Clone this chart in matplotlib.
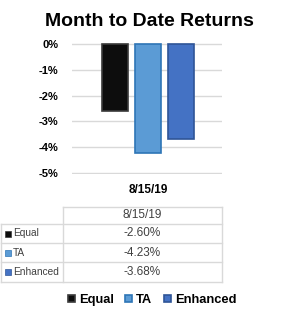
import matplotlib.pyplot as plt
from matplotlib.patches import Rectangle

plt.rcParams['font.family'] = ['Liberation Sans', 'DejaVu Sans']

# data
date_label = '8/15/19'
series = ['Equal', 'TA', 'Enhanced']
returns = [-2.60, -4.23, -3.68]
colors = ['#0d0d0d', '#5b9bd5', '#4472c4']
edges = ['#3a3a3a', '#2e75b6', '#2f5597']
yticks = [0, -1, -2, -3, -4, -5]

W, H = 298, 320
fig = plt.figure(figsize=(W / 100, H / 100), dpi=100)

def fx(px):
    return px / W

def fy(py):
    return 1 - py / H

# chart axes
ax = fig.add_axes([fx(72), fy(174), fx(222) - fx(72), fy(43) - fy(174)])
xs = [-1.27, 0, 1.27]
bars = []
for x, v, c, e, s in zip(xs, returns, colors, edges, series):
    b = ax.bar(x, v, width=1.0, color=c, edgecolor=e, linewidth=1.2, label=s, zorder=3)
    bars.append(b)
ax.set_xlim(-2.92, 2.85)
ax.set_yticks(yticks)
ax.set_yticklabels([f'{t}%' for t in yticks], fontsize=8, fontweight='bold')
ax.set_xticks([0])
ax.set_xticklabels([date_label], fontsize=8.5, fontweight='bold')
ax.tick_params(length=0, pad=10)
ax.tick_params(axis='x', pad=7)
ax.grid(axis='y', color='#d9d9d9', linewidth=1, zorder=0)
for sp in ax.spines.values():
    sp.set_visible(False)
ax.set_ylim(-5.02, 0.02)

fig.text(0.5, fy(22), 'Month to Date Returns', ha='center', va='center',
         fontsize=14, fontweight='bold')

# data table
tab = fig.add_axes([0, 0, 1, 1])
tab.set_xlim(0, W)
tab.set_ylim(H, 0)
tab.axis('off')
tab.patch.set_alpha(0)
gc = '#d9d9d9'
y_rows = [207, 224, 243, 262, 282]
x0, xm, x1 = 1, 63, 222
tab.plot([xm, x1], [y_rows[0], y_rows[0]], color=gc, lw=1)
for yy in y_rows[1:]:
    tab.plot([x0, x1], [yy, yy], color=gc, lw=1)
tab.plot([xm, xm], [y_rows[0], y_rows[-1]], color=gc, lw=1)
tab.plot([x1, x1], [y_rows[0], y_rows[-1]], color=gc, lw=1)
tab.plot([x0, x0], [y_rows[1], y_rows[-1]], color=gc, lw=1)
tab.text((xm + x1) / 2, (y_rows[0] + y_rows[1]) / 2, date_label, ha='center',
         va='center', fontsize=8.5, color='#404040')
for i, (s, v, c, e) in enumerate(zip(series, returns, colors, edges)):
    yc = (y_rows[i + 1] + y_rows[i + 2]) / 2
    tab.add_patch(Rectangle((5, yc - 3), 6, 6, facecolor=c, edgecolor=e, lw=0.5))
    tab.text(13, yc, s, ha='left', va='center', fontsize=7.3, color='#404040')
    tab.text((xm + x1) / 2, yc, f'{v:.2f}%', ha='center', va='center',
             fontsize=8.5, color='#404040')

# legend
fig.legend(handles=bars, labels=series, loc='center', bbox_to_anchor=(fx(152), fy(300)),
           ncol=3, frameon=False, handlelength=0.55, handleheight=0.55,
           handletextpad=0.3, columnspacing=0.9,
           prop={'weight': 'bold', 'size': 9.3})

fig.savefig('out.png', dpi=100)
